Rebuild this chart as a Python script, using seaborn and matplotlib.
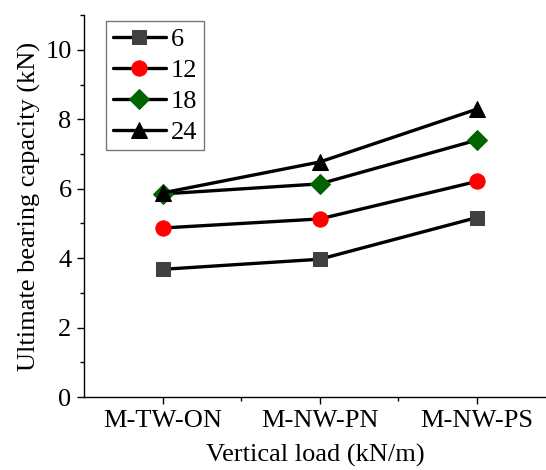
import numpy as np
import pandas as pd
import matplotlib
matplotlib.use("Agg")
import matplotlib.pyplot as plt
import seaborn as sns
from matplotlib.ticker import MultipleLocator, FixedLocator

# values
categories = ["M-TW-ON", "M-NW-PN", "M-NW-PS"]
series_names = ["6", "12", "18", "24"]
load_6 = [3.68, 3.97, 5.17]
load_12 = [4.87, 5.13, 6.21]
load_18 = [5.85, 6.14, 7.40]
load_24 = [5.88, 6.77, 8.29]

sns.set_theme(style="ticks")
plt.rcParams["font.family"] = ["Liberation Serif", "DejaVu Serif"]
plt.rcParams["text.color"] = "black"
plt.rcParams["axes.labelcolor"] = "black"
plt.rcParams["xtick.color"] = "black"
plt.rcParams["ytick.color"] = "black"

df = pd.DataFrame({
    "category": categories * 4,
    "pos": [1, 2, 3] * 4,
    "series": np.repeat(series_names, 3),
    "value": load_6 + load_12 + load_18 + load_24,
})

styles = {
    "6": dict(marker="s", mfc="#404040", mec="#404040", ms=10),
    "12": dict(marker="o", mfc="#ff0000", mec="#ff0000", ms=11),
    "18": dict(marker="D", mfc="#006400", mec="#006400", ms=10),
    "24": dict(marker="^", mfc="black", mec="black", ms=11),
}

fs = 19

fig = plt.figure(figsize=(5.46, 4.70), dpi=100)
ax = fig.add_axes([0.154, 0.155, 0.846, 0.813])

for name in series_names:
    sub = df[df["series"] == name]
    st = styles[name]
    sns.lineplot(data=sub, x="pos", y="value", ax=ax, color="black", lw=2.4,
                 marker=st["marker"], markersize=st["ms"],
                 markerfacecolor=st["mfc"], markeredgecolor=st["mec"],
                 label=name)

ax.set_xlim(0.5, 3.44)
ax.set_ylim(0, 11)
ax.xaxis.set_major_locator(FixedLocator([1, 2, 3]))
ax.set_xticklabels(categories)
ax.xaxis.set_minor_locator(FixedLocator([1.5, 2.5]))
ax.yaxis.set_major_locator(MultipleLocator(2))
ax.yaxis.set_minor_locator(MultipleLocator(1))
ax.tick_params(which="major", direction="out", length=5, width=1, labelsize=fs,
               color="black", labelcolor="black", pad=4)
ax.tick_params(which="minor", direction="out", length=3, width=1, color="black")
for s in ["top", "right"]:
    ax.spines[s].set_visible(False)
for s in ["left", "bottom"]:
    ax.spines[s].set_color("black")
    ax.spines[s].set_linewidth(1)

ax.set_xlabel("Vertical load (kN/m)", fontsize=fs, labelpad=9, color="black")
ax.set_ylabel("Ultimate bearing capacity (kN)", fontsize=fs, labelpad=3, color="black")

leg = ax.legend(loc="upper left", fontsize=fs, frameon=True, fancybox=False,
                handlelength=2.0, handletextpad=0.2, borderpad=0.25,
                labelspacing=0.28, borderaxespad=0,
                bbox_to_anchor=(0.048, 0.984))
leg.get_frame().set_edgecolor("#555555")
leg.get_frame().set_linewidth(1)
for t in leg.get_texts():
    t.set_color("black")

fig.savefig("out.png", dpi=100)
